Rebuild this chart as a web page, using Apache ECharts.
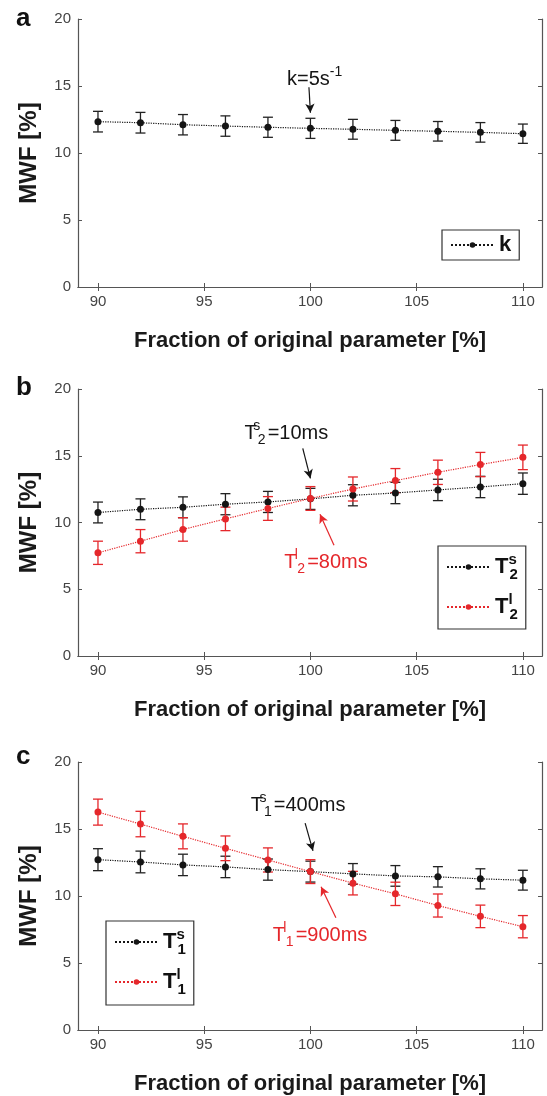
<!DOCTYPE html>
<html>
<head>
<meta charset="utf-8">
<script src="https://cdn.jsdelivr.net/npm/echarts@6/dist/echarts.min.js"></script>
<style>
  html, body { margin: 0; padding: 0; background: #fff; }
  #main { width: 547px; height: 1096px; }
</style>
</head>
<body>
<div id="main"></div>
<script>
// x values (fraction of original parameter, %)
var xs = [90, 92, 94, 96, 98, 100, 102, 104, 106, 108, 110];
var xTicks = [90, 95, 100, 105, 110];

// panel a: k
var kMean = [12.34, 12.26, 12.11, 12.01, 11.92, 11.84, 11.77, 11.69, 11.62, 11.54, 11.44];
var kErr = [0.77, 0.77, 0.76, 0.76, 0.75, 0.75, 0.74, 0.74, 0.73, 0.73, 0.72];

// panel b: T2 short / long
var t2sMean = [10.75, 10.99, 11.14, 11.37, 11.54, 11.77, 12.04, 12.21, 12.44, 12.66, 12.91];
var t2sErr = [0.78, 0.78, 0.78, 0.79, 0.79, 0.79, 0.79, 0.8, 0.8, 0.8, 0.8];
var t2lMean = [7.73, 8.60, 9.48, 10.27, 11.05, 11.80, 12.51, 13.14, 13.76, 14.34, 14.88];
var t2lErr = [0.87, 0.87, 0.88, 0.88, 0.89, 0.89, 0.9, 0.9, 0.91, 0.91, 0.92];

// panel c: T1 short / long
var t1sMean = [12.71, 12.54, 12.32, 12.17, 11.97, 11.82, 11.65, 11.50, 11.43, 11.28, 11.18];
var t1sErr = [0.82, 0.81, 0.8, 0.8, 0.79, 0.78, 0.77, 0.77, 0.76, 0.75, 0.74];
var t1lMean = [16.26, 15.37, 14.45, 13.56, 12.69, 11.82, 10.96, 10.16, 9.29, 8.48, 7.71];
var t1lErr = [0.97, 0.95, 0.93, 0.92, 0.9, 0.89, 0.88, 0.87, 0.86, 0.84, 0.83];

// annotations: [text, textX, textY, arrowFromX, arrowFromY, arrowToX, arrowToY]
var annA = [['{m|k=5s}{sup|-1}', 100.2, 15.5, 99.93, 14.9, 100.0, 13.0]];
var annBs = [['{m|T}{sup0|s}{sub|2}{m|=10ms}', 98.87, 16.7, 99.64, 15.56, 100.0, 13.3]];
var annBl = [['{m|T}{sup0|l}{sub|2}{m|=80ms}', 100.73, 7.03, 101.11, 8.3, 100.45, 10.62]];
var annCs = [['{m|T}{sup0|s}{sub|1}{m|=400ms}', 99.42, 16.78, 99.75, 15.44, 100.12, 13.37]];
var annCl = [['{m|T}{sup0|l}{sub|1}{m|=900ms}', 100.45, 7.08, 101.2, 8.38, 100.5, 10.69]];

var BLACK = '#151515';
var RED = '#e5272b';
var AXIS = '#555';
var FONT = 'Liberation Sans';

var legendNames = {
    k: '{m|k}',
    T2s: '{m|T}{sup0|s}{sub|2}',
    T2l: '{m|T}{sup0|l}{sub|2}',
    T1s: '{m|T}{sup0|s}{sub|1}',
    T1l: '{m|T}{sup0|l}{sub|1}'
};

function richSet(size, color, weight) {
    var s = Math.round(size * 0.68);
    var off = Math.round(size * 0.7);
    return {
        m: { fontSize: size, color: color, fontFamily: FONT, fontWeight: weight },
        sup: { fontSize: s, color: color, fontFamily: FONT, fontWeight: weight, padding: [0, 0, off, 0] },
        sup0: { fontSize: s, color: color, fontFamily: FONT, fontWeight: weight, width: 0, padding: [0, 0, off, 0] },
        sub: { fontSize: s, color: color, fontFamily: FONT, fontWeight: weight, padding: [off, 2, 0, 1] }
    };
}

var grids = [
    { left: 78, right: 5, top: 19, height: 268 },
    { left: 78, right: 5, top: 389, height: 267 },
    { left: 78, right: 5, top: 762, height: 268 }
];

var xAxes = [], yAxes = [];
grids.forEach(function (g, i) {
    xAxes.push({
        gridIndex: i, type: 'value', min: 89.06, max: 110.9, position: 'bottom',
        axisLine: { lineStyle: { color: AXIS, width: 1.2 } },
        axisTick: { inside: true, length: 4, customValues: xTicks, lineStyle: { color: AXIS } },
        axisLabel: { customValues: xTicks, color: '#444', fontSize: 15, fontFamily: FONT, margin: 7 },
        splitLine: { show: false },
        name: 'Fraction of original parameter [%]', nameLocation: 'middle', nameGap: 43,
        nameTextStyle: { fontSize: 22, fontWeight: 'bold', color: '#1a1a1a', fontFamily: FONT }
    });
    xAxes.push({
        gridIndex: i, type: 'value', min: 89.06, max: 110.9, position: 'top',
        axisLine: { lineStyle: { color: AXIS, width: 1.2 } },
        axisTick: { inside: true, length: 4, customValues: xTicks, lineStyle: { color: AXIS } },
        axisLabel: { show: false }, splitLine: { show: false }
    });
    yAxes.push({
        gridIndex: i, type: 'value', min: 0, max: 20, interval: 5, position: 'left',
        axisLine: { show: true, lineStyle: { color: AXIS, width: 1.2 } },
        axisTick: { show: true, inside: true, length: 4, lineStyle: { color: AXIS } },
        axisLabel: { color: '#444', fontSize: 15, fontFamily: FONT, margin: 7 },
        splitLine: { show: false },
        name: 'MWF [%]', nameLocation: 'middle', nameGap: 37,
        nameTextStyle: { fontSize: 24, fontWeight: 'bold', color: '#1a1a1a', fontFamily: FONT }
    });
    yAxes.push({
        gridIndex: i, type: 'value', min: 0, max: 20, interval: 5, position: 'right',
        axisLine: { show: true, lineStyle: { color: AXIS, width: 1.2 } },
        axisTick: { show: true, inside: true, length: 4, lineStyle: { color: AXIS } },
        axisLabel: { show: false }, splitLine: { show: false }
    });
});

function pairs(mean) {
    return xs.map(function (x, i) { return [x, mean[i]]; });
}
function ranges(mean, err) {
    return xs.map(function (x, i) { return [x, mean[i] - err[i], mean[i] + err[i]]; });
}

function errRender(color) {
    return function (params, api) {
        var x = api.value(0);
        var top = api.coord([x, api.value(2)]);
        var bot = api.coord([x, api.value(1)]);
        var w = 5;
        var st = { stroke: color, lineWidth: 1.3 };
        return {
            type: 'group',
            children: [
                { type: 'line', shape: { x1: top[0], y1: top[1], x2: bot[0], y2: bot[1] }, style: st },
                { type: 'line', shape: { x1: top[0] - w, y1: top[1], x2: top[0] + w, y2: top[1] }, style: st },
                { type: 'line', shape: { x1: bot[0] - w, y1: bot[1], x2: bot[0] + w, y2: bot[1] }, style: st }
            ]
        };
    };
}

function annMarks(ann, color) {
    return {
        markLine: {
            silent: true, symbol: ['none', 'arrow'], symbolSize: [7, 9],
            label: { show: false },
            lineStyle: { color: color, type: 'solid', width: 1.2 },
            data: ann.map(function (a) { return [{ coord: [a[3], a[4]] }, { coord: [a[5], a[6]] }]; })
        },
        markPoint: {
            silent: true, symbol: 'circle', symbolSize: 0,
            label: { show: true, position: 'inside', formatter: function (p) { return p.name; }, rich: richSet(20, color, 'normal') },
            data: ann.map(function (a) { return { name: a[0], coord: [a[1], a[2]] }; })
        }
    };
}

function makeSeries(name, idx, mean, err, color, ann) {
    var line = {
        name: name, type: 'line', xAxisIndex: idx * 2, yAxisIndex: idx * 2,
        data: pairs(mean), symbol: 'circle', symbolSize: 7, z: 3,
        itemStyle: { color: color },
        lineStyle: { color: color, type: 'dotted', width: 1.2 }
    };
    if (ann) {
        var m = annMarks(ann, color);
        line.markLine = m.markLine;
        line.markPoint = m.markPoint;
    }
    var bars = {
        name: name, type: 'custom', xAxisIndex: idx * 2, yAxisIndex: idx * 2,
        data: ranges(mean, err), encode: { x: 0, y: [1, 2] }, z: 2,
        renderItem: errRender(color === BLACK ? '#222' : color)
    };
    return [line, bars];
}

var series = [].concat(
    makeSeries('k', 0, kMean, kErr, BLACK, annA),
    makeSeries('T2s', 1, t2sMean, t2sErr, BLACK, annBs),
    makeSeries('T2l', 1, t2lMean, t2lErr, RED, annBl),
    makeSeries('T1s', 2, t1sMean, t1sErr, BLACK, annCs),
    makeSeries('T1l', 2, t1lMean, t1lErr, RED, annCl)
);

function legendBox(names, left, top, pad, gap) {
    return {
        data: names, orient: 'vertical', left: left, top: top,
        padding: pad, itemGap: gap, itemWidth: 43, itemHeight: 7,
        borderColor: '#333', borderWidth: 1.2, selectedMode: false,
        formatter: function (n) { return legendNames[n]; },
        textStyle: { rich: richSet(22, '#111', 'bold') }
    };
}

var option = {
    animation: false,
    backgroundColor: '#fff',
    grid: grids,
    xAxis: xAxes,
    yAxis: yAxes,
    legend: [
        legendBox(['k'], 442, 230, [4, 8, 4, 8], 10),
        legendBox(['T2s', 'T2l'], 438, 546, [6, 8, 7, 8], 10),
        legendBox(['T1s', 'T1l'], 106, 921, [6, 8, 8, 8], 10)
    ],
    graphic: [
        { type: 'text', left: 16, top: 6, style: { text: 'a', fontSize: 26, fontWeight: 'bold', fontFamily: FONT, fill: '#111' } },
        { type: 'text', left: 16, top: 375, style: { text: 'b', fontSize: 26, fontWeight: 'bold', fontFamily: FONT, fill: '#111' } },
        { type: 'text', left: 16, top: 744, style: { text: 'c', fontSize: 26, fontWeight: 'bold', fontFamily: FONT, fill: '#111' } }
    ],
    series: series
};

var chart = echarts.init(document.getElementById('main'));
chart.setOption(option);
</script>
</body>
</html>
